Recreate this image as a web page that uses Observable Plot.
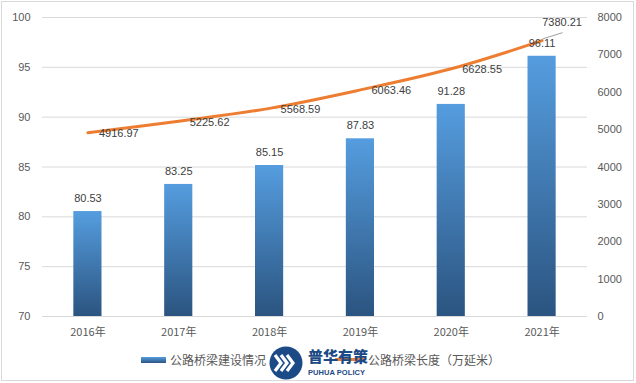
<!DOCTYPE html>
<html><head><meta charset="utf-8">
<script src="https://cdn.jsdelivr.net/npm/d3@7"></script>
<script src="https://cdn.jsdelivr.net/npm/@observablehq/plot@0.6"></script>
<style>
body{margin:0;background:#fff;font-family:"Liberation Sans",Arial,sans-serif;}
#wrap{position:relative;width:636px;height:383px;overflow:hidden;background:#fff;}
#frame{position:absolute;left:1px;top:1px;width:633px;height:380px;border:1px solid #d9d9d9;box-sizing:border-box;pointer-events:none;}
#chart{position:absolute;left:0;top:0;}
.lg{position:absolute;font-size:12px;color:#595959;white-space:nowrap;line-height:14px;font-family:"Noto Sans CJK SC","Liberation Sans",sans-serif;}
</style></head>
<body>
<div id="wrap">
  <div id="chart"></div>
  <div id="legend"></div>
  <div id="frame"></div>
</div>
<script>
const years = ["2016年","2017年","2018年","2019年","2020年","2021年"];
const bridgeCount = [80.53, 83.25, 85.15, 87.83, 91.28, 96.11];
const bridgeLength = [4916.97, 5225.62, 5568.59, 6063.46, 6628.55, 7380.21];
const leftTicks = [70, 75, 80, 85, 90, 95, 100];
const rightTicks = [0, 1000, 2000, 3000, 4000, 5000, 6000, 7000, 8000];
const seriesNames = ["公路桥梁建设情况", "公路桥梁长度（万延米）"];
const logoText = ["普华有策", "PUHUA POLICY"];

const leftMin = 70, leftMax = 100, rightMax = 8000;
const toLeft = v => leftMin + v / rightMax * (leftMax - leftMin);
const fromLeft = y => String(Math.round((y - leftMin) / (leftMax - leftMin) * rightMax));

const data = years.map((year, i) => ({year, count: bridgeCount[i], len: bridgeLength[i], ly: toLeft(bridgeLength[i])}));

const defs = () => {
  const g = d3.create("svg:defs");
  const lg = g.append("linearGradient").attr("id", "barGrad").attr("x1", 0).attr("y1", 0).attr("x2", 0).attr("y2", 1);
  lg.append("stop").attr("offset", "0%").attr("stop-color", "#559ddf");
  lg.append("stop").attr("offset", "100%").attr("stop-color", "#2b5480");
  return g.node();
};

const lineShape = {draw(ctx, l) { ctx.moveTo(0, 0); ctx.lineTo(0, -l); }};

const chart = Plot.plot({
  width: 636, height: 340,
  marginTop: 17, marginBottom: 24, marginLeft: 42, marginRight: 49,
  style: {fontFamily: "Liberation Sans, Arial, sans-serif", fontSize: "11px", color: "#595959", background: "transparent"},
  x: {domain: years, paddingInner: 0.69, paddingOuter: 0.345, round: false, label: null},
  y: {domain: [leftMin, leftMax], label: null},
  marks: [
    defs,
    Plot.gridY(leftTicks, {stroke: "#d9d9d9", strokeOpacity: 1}),
    Plot.axisY(leftTicks, {anchor: "left", tickSize: 0, tickPadding: 12, label: null, fill: "#595959"}),
    Plot.axisY(rightTicks.map(toLeft), {anchor: "right", tickSize: 0, tickPadding: 10, label: null, tickFormat: fromLeft, fill: "#595959"}),
    Plot.axisX({tickSize: 0, tickPadding: 12, label: null, fill: "#595959", fontFamily: "Noto Sans CJK SC, Liberation Sans, sans-serif"}),
    Plot.barY(data, {x: "year", y1: leftMin, y2: "count", fill: "url(#barGrad)"}),
    Plot.line(data, {x: "year", y: "ly", stroke: "#ED7D31", strokeWidth: 3, curve: "catmull-rom"}),
    Plot.text(data, {x: "year", y: "count", text: d => d.count.toFixed(2), dy: -13, fill: "#404040", fontSize: 11}),
    Plot.text(data.slice(0, 5), {x: "year", y: "ly", text: d => d.len.toFixed(2), textAnchor: "start", dx: 11, dy: 1, fill: "#404040", fontSize: 11}),
    Plot.vector(data.slice(5), {x: "year", y: "ly", rotate: 73, length: 20, anchor: "start", dx: 1, dy: -2, shape: lineShape, stroke: "#a6a6a6", strokeWidth: 1}),
    Plot.text(data.slice(5), {x: "year", y: "ly", text: d => d.len.toFixed(2), dx: 20, dy: -18, fill: "#404040", fontSize: 11})
  ]
});
document.getElementById("chart").appendChild(chart);

// legend
const leg = document.getElementById("legend");
leg.innerHTML = `
  <div style="position:absolute;left:141px;top:357px;width:25px;height:6px;background:linear-gradient(#559ddf,#2b5480);"></div>
  <div class="lg" style="left:170px;top:353px;">${seriesNames[0]}</div>
  <div style="position:absolute;left:335px;top:358px;width:30px;height:3px;background:#ED7D31;"></div>
  <svg style="position:absolute;left:268px;top:345px;" width="100" height="38">
    <circle cx="18" cy="18" r="16.5" fill="#1c4a86"/>
    <g fill="none" stroke="#fff" stroke-width="3.2" stroke-linejoin="miter">
      <path d="M7 10 L13 18 L7 26"/>
      <path d="M13 10 L19 18 L13 26"/>
      <path d="M19 10 L25 18 L19 26"/>
    </g>
    <text x="40" y="17" font-family="Noto Sans CJK SC" font-weight="900" font-size="15" fill="#1c4a86">${logoText[0]}</text>
    <text x="40" y="30" font-family="Liberation Sans" font-weight="bold" font-size="7.5" fill="#1c4a86" textLength="57">${logoText[1]}</text>
  </svg>
  <div class="lg" style="left:368px;top:353px;">${seriesNames[1]}</div>
`;
</script>
</body></html>
